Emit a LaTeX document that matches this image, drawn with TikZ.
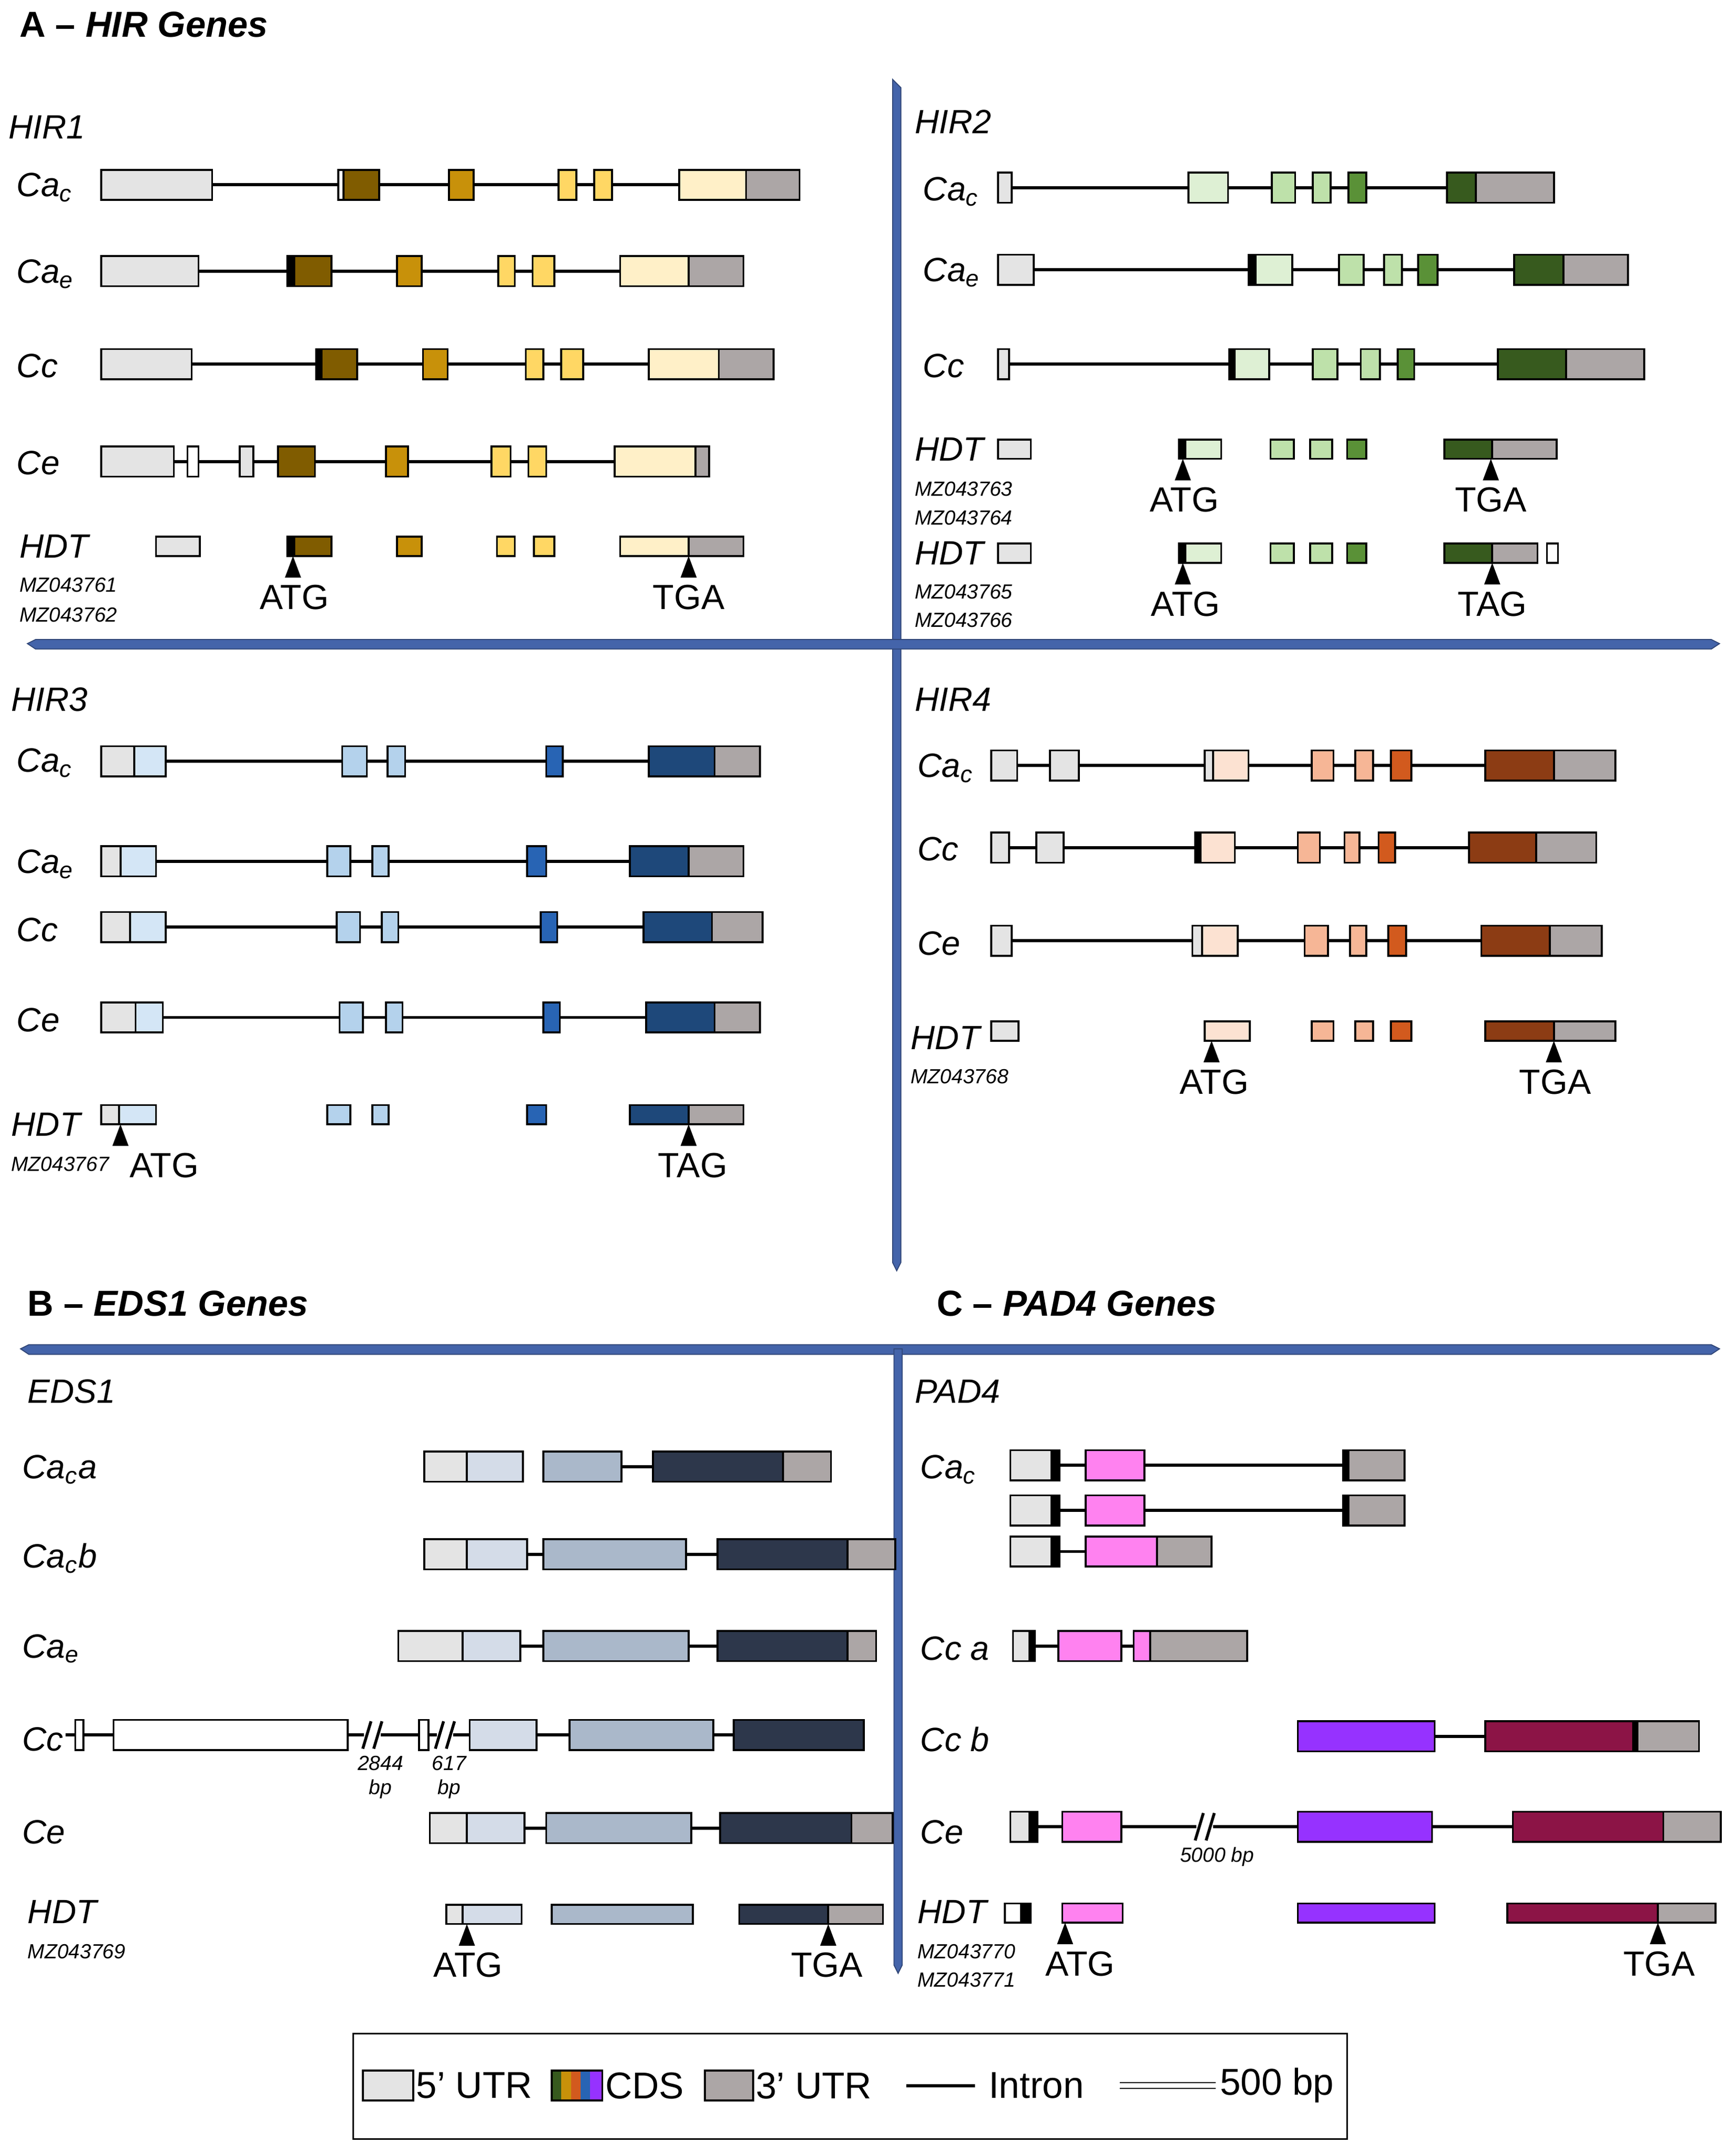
\documentclass[tikz,border=0pt]{standalone}
\usepackage{fontspec}
\setmainfont{Liberation Sans}
\usetikzlibrary{arrows.meta}
\definecolor{uA}{RGB}{228,228,228}\definecolor{uB}{RGB}{172,166,166}
\definecolor{y1}{RGB}{128,92,0}\definecolor{y2}{RGB}{200,145,10}\definecolor{y3}{RGB}{255,215,100}\definecolor{y4}{RGB}{255,240,200}
\definecolor{g1}{RGB}{222,240,212}\definecolor{g2}{RGB}{190,225,170}\definecolor{g3}{RGB}{90,145,55}\definecolor{g4}{RGB}{55,90,30}
\definecolor{b1}{RGB}{212,230,246}\definecolor{b2}{RGB}{180,210,236}\definecolor{b3}{RGB}{40,100,180}\definecolor{b4}{RGB}{30,72,122}
\definecolor{o1}{RGB}{252,226,210}\definecolor{o2}{RGB}{246,182,150}\definecolor{o3}{RGB}{210,90,30}\definecolor{o4}{RGB}{140,60,20}
\definecolor{e1}{RGB}{212,220,232}\definecolor{e2}{RGB}{170,184,202}\definecolor{e3}{RGB}{45,55,75}
\definecolor{p1}{RGB}{255,130,240}\definecolor{p2}{RGB}{150,50,255}\definecolor{p3}{RGB}{140,20,70}
\definecolor{bar}{RGB}{68,100,170}
\newcommand\GB[4]{\draw[thick,fill=#4] (#1,#3-11) rectangle (#2,#3+11);}
\newcommand\GH[4]{\draw[thick,fill=#4] (#1,#3-7) rectangle (#2,#3+7);}
\newcommand\GI[3]{\draw[line width=1.3pt] (#1,#3) -- (#2,#3);}
\newcommand\GA[4]{\draw[-{Triangle[length=9pt,width=6.5pt]},thick] (#1,#2+22) -- (#1,#2+7); \node[font=\fontsize{14.5}{15}\selectfont] at (#3,#2+37) {#4};}
\newcommand\GL[3]{\node[anchor=west,font=\itshape\fontsize{14}{15}\selectfont] at (#1,#2) {#3};}
\newcommand\GM[3]{\node[anchor=west,font=\itshape\fontsize{8.5}{9}\selectfont] at (#1,#2) {#3};}
\newcommand\cs[1]{\textit{Ca}\textsubscript{\textit{#1}}}
\newcommand\SL[2]{\draw[fill=white,draw=none] (#1-6,#2-12) rectangle (#1+6,#2+12); \draw[line width=1.2pt] (#1-7,#2+10)--(#1-1,#2-10) (#1+1,#2+10)--(#1+7,#2-10);}
\begin{document}
\begin{tikzpicture}[x=0.02cm,y=-0.02cm]
\useasboundingbox (0,0) rectangle (1268,1573);
\fill[white] (0,0) rectangle (1268,1573);
% bars
\draw[fill=bar,draw=bar!70!black] (652,58) -- (658,64) -- (658,922) -- (655,928) -- (652,922) -- cycle;
\draw[fill=bar,draw=bar!70!black] (20,470) -- (26,467) -- (1250,467) -- (1256,470) -- (1250,474) -- (26,474) -- cycle;
\draw[fill=bar,draw=bar!70!black] (15,985) -- (21,982) -- (1250,982) -- (1256,985) -- (1250,989) -- (21,989) -- cycle;
\draw[fill=bar,draw=bar!70!black] (653,985) -- (659,985) -- (659,1435) -- (656,1441) -- (653,1435) -- cycle;
% titles
\node[anchor=west,font=\bfseries\fontsize{15}{16}\selectfont] at (8,18) {A -- \textit{HIR Genes}};
\node[anchor=west,font=\bfseries\fontsize{15}{16}\selectfont] at (14,952) {B -- \textit{EDS1 Genes}};
\node[anchor=west,font=\bfseries\fontsize{15}{16}\selectfont] at (678,952) {C -- \textit{PAD4 Genes}};
% ===== HIR1
\GL{0}{93}{HIR1}
\GL{6}{137}{\cs{c}}\GI{155}{496}{135}
\GB{74}{155}{135}{uA}\GB{247}{251}{135}{white}\GB{251}{277}{135}{y1}\GB{328}{346}{135}{y2}\GB{408}{421}{135}{y3}\GB{434}{447}{135}{y3}\GB{496}{545}{135}{y4}\GB{545}{584}{135}{uB}
\GL{6}{200}{\cs{e}}\GI{145}{453}{198}
\GB{74}{145}{198}{uA}\GB{210}{215}{198}{black}\GB{215}{242}{198}{y1}\GB{290}{308}{198}{y2}\GB{364}{376}{198}{y3}\GB{389}{405}{198}{y3}\GB{453}{503}{198}{y4}\GB{503}{543}{198}{uB}
\GL{6}{267}{\textit{Cc}}\GI{140}{474}{266}
\GB{74}{140}{266}{uA}\GB{231}{235}{266}{black}\GB{235}{261}{266}{y1}\GB{309}{327}{266}{y2}\GB{384}{397}{266}{y3}\GB{410}{426}{266}{y3}\GB{474}{525}{266}{y4}\GB{525}{565}{266}{uB}
\GL{6}{338}{\textit{Ce}}\GI{127}{449}{337}
\GB{74}{127}{337}{uA}\GB{137}{145}{337}{white}\GB{175}{185}{337}{uA}\GB{203}{230}{337}{y1}\GB{282}{298}{337}{y2}\GB{359}{373}{337}{y3}\GB{386}{399}{337}{y3}\GB{449}{508}{337}{y4}\GB{508}{518}{337}{uB}
\GL{8}{399}{\textit{HDT}}\GM{8}{427}{MZ043761}\GM{8}{449}{MZ043762}
\GH{114}{146}{399}{uA}\GH{210}{215}{399}{black}\GH{215}{242}{399}{y1}\GH{290}{308}{399}{y2}\GH{363}{376}{399}{y3}\GH{390}{405}{399}{y3}\GH{453}{503}{399}{y4}\GH{503}{543}{399}{uB}
\GA{214}{399}{215}{ATG}\GA{503}{399}{503}{TGA}
% ===== HIR2
\GL{662}{89}{HIR2}
\GL{668}{140}{\cs{c}}\GI{739}{1057}{137}
\GB{729}{739}{137}{uA}\GB{868}{897}{137}{g1}\GB{929}{946}{137}{g2}\GB{959}{972}{137}{g2}\GB{985}{998}{137}{g3}\GB{1057}{1078}{137}{g4}\GB{1078}{1135}{137}{uB}
\GL{668}{199}{\cs{e}}\GI{755}{1106}{197}
\GB{729}{755}{197}{uA}\GB{912}{917}{197}{black}\GB{917}{944}{197}{g1}\GB{978}{996}{197}{g2}\GB{1011}{1024}{197}{g2}\GB{1036}{1050}{197}{g3}\GB{1106}{1142}{197}{g4}\GB{1142}{1189}{197}{uB}
\GL{668}{267}{\textit{Cc}}\GI{737}{1094}{266}
\GB{729}{737}{266}{uA}\GB{898}{902}{266}{black}\GB{902}{927}{266}{g1}\GB{959}{977}{266}{g2}\GB{994}{1008}{266}{g2}\GB{1021}{1033}{266}{g3}\GB{1094}{1144}{266}{g4}\GB{1144}{1201}{266}{uB}
\GL{662}{328}{\textit{HDT}}\GM{662}{357}{MZ043763}\GM{662}{378}{MZ043764}
\GH{729}{753}{328}{uA}\GH{861}{866}{328}{black}\GH{866}{892}{328}{g1}\GH{928}{945}{328}{g2}\GH{957}{973}{328}{g2}\GH{984}{998}{328}{g3}\GH{1055}{1090}{328}{g4}\GH{1090}{1137}{328}{uB}
\GA{864}{328}{865}{ATG}\GA{1089}{328}{1089}{TGA}
\GL{662}{404}{\textit{HDT}}\GM{662}{432}{MZ043765}\GM{662}{453}{MZ043766}
\GH{729}{753}{404}{uA}\GH{861}{866}{404}{black}\GH{866}{892}{404}{g1}\GH{928}{945}{404}{g2}\GH{957}{973}{404}{g2}\GH{984}{998}{404}{g3}\GH{1055}{1090}{404}{g4}\GH{1090}{1123}{404}{uB}\GH{1130}{1138}{404}{white}
\GA{864}{404}{866}{ATG}\GA{1090}{404}{1090}{TAG}
% ===== HIR3
\GL{2}{511}{HIR3}
\GL{6}{557}{\cs{c}}\GI{121}{474}{556}
\GB{74}{98}{556}{uA}\GB{98}{121}{556}{b1}\GB{250}{268}{556}{b2}\GB{283}{296}{556}{b2}\GB{399}{411}{556}{b3}\GB{474}{522}{556}{b4}\GB{522}{555}{556}{uB}
\GL{6}{631}{\cs{e}}\GI{114}{460}{629}
\GB{74}{88}{629}{uA}\GB{88}{114}{629}{b1}\GB{239}{256}{629}{b2}\GB{272}{284}{629}{b2}\GB{385}{399}{629}{b3}\GB{460}{503}{629}{b4}\GB{503}{543}{629}{uB}
\GL{6}{679}{\textit{Cc}}\GI{121}{470}{677}
\GB{74}{95}{677}{uA}\GB{95}{121}{677}{b1}\GB{246}{263}{677}{b2}\GB{279}{291}{677}{b2}\GB{395}{407}{677}{b3}\GB{470}{520}{677}{b4}\GB{520}{557}{677}{uB}
\GL{6}{745}{\textit{Ce}}\GI{119}{472}{743}
\GB{74}{99}{743}{uA}\GB{99}{119}{743}{b1}\GB{248}{265}{743}{b2}\GB{282}{294}{743}{b2}\GB{397}{409}{743}{b3}\GB{472}{522}{743}{b4}\GB{522}{555}{743}{uB}
\GL{2}{821}{\textit{HDT}}\GM{2}{850}{MZ043767}
\GH{74}{87}{814}{uA}\GH{87}{114}{814}{b1}\GH{239}{256}{814}{b2}\GH{272}{284}{814}{b2}\GH{385}{399}{814}{b3}\GH{460}{503}{814}{b4}\GH{503}{543}{814}{uB}
\GA{88}{814}{120}{ATG}\GA{503}{814}{506}{TAG}
% ===== HIR4
\GL{662}{511}{HIR4}
\GL{664}{561}{\cs{c}}\GI{743}{1085}{559}
\GB{724}{743}{559}{uA}\GB{767}{788}{559}{uA}\GB{880}{886}{559}{uA}\GB{886}{912}{559}{o1}\GB{958}{974}{559}{o2}\GB{990}{1003}{559}{o2}\GB{1016}{1031}{559}{o3}\GB{1085}{1135}{559}{o4}\GB{1135}{1180}{559}{uB}
\GL{664}{620}{\textit{Cc}}\GI{737}{1073}{619}
\GB{724}{737}{619}{uA}\GB{757}{777}{619}{uA}\GB{873}{877}{619}{black}\GB{877}{902}{619}{o1}\GB{948}{964}{619}{o2}\GB{982}{993}{619}{o2}\GB{1007}{1019}{619}{o3}\GB{1073}{1122}{619}{o4}\GB{1122}{1166}{619}{uB}
\GL{664}{689}{\textit{Ce}}\GI{739}{1082}{687}
\GB{724}{739}{687}{uA}\GB{871}{878}{687}{uA}\GB{878}{904}{687}{o1}\GB{953}{970}{687}{o2}\GB{986}{998}{687}{o2}\GB{1014}{1027}{687}{o3}\GB{1082}{1132}{687}{o4}\GB{1132}{1170}{687}{uB}
\GL{659}{758}{\textit{HDT}}\GM{659}{786}{MZ043768}
\GH{724}{744}{753}{uA}\GH{880}{913}{753}{o1}\GH{958}{974}{753}{o2}\GH{990}{1003}{753}{o2}\GH{1016}{1031}{753}{o3}\GH{1085}{1135}{753}{o4}\GH{1135}{1180}{753}{uB}
\GA{885}{753}{887}{ATG}\GA{1135}{753}{1136}{TGA}
% ===== EDS1
\GL{14}{1016}{EDS1}
\GL{10}{1073}{\cs{c}a}\GI{454}{477}{1071}
\GB{310}{341}{1071}{uA}\GB{341}{382}{1071}{e1}\GB{397}{454}{1071}{e2}\GB{477}{572}{1071}{e3}\GB{572}{607}{1071}{uB}
\GL{10}{1138}{\cs{c}b}\GI{382}{524}{1135}
\GB{310}{341}{1135}{uA}\GB{341}{385}{1135}{e1}\GB{397}{501}{1135}{e2}\GB{524}{619}{1135}{e3}\GB{619}{654}{1135}{uB}
\GL{10}{1204}{\cs{e}}\GI{380}{524}{1202}
\GB{291}{338}{1202}{uA}\GB{338}{380}{1202}{e1}\GB{397}{503}{1202}{e2}\GB{524}{619}{1202}{e3}\GB{619}{640}{1202}{uB}
\GL{10}{1270}{\textit{Cc}}\GI{48}{536}{1267}
\GB{55}{61}{1267}{white}\GB{83}{254}{1267}{white}\SL{272}{1267}\GB{306}{313}{1267}{white}\SL{325}{1267}
\GB{343}{392}{1267}{e1}\GB{416}{521}{1267}{e2}\GB{536}{631}{1267}{e3}
\node[font=\itshape\fontsize{8.5}{10}\selectfont,align=center] at (278,1298) {2844\\bp};
\node[font=\itshape\fontsize{8.5}{10}\selectfont,align=center] at (328,1298) {617\\bp};
\GL{10}{1338}{\textit{Ce}}\GI{383}{526}{1335}
\GB{314}{341}{1335}{uA}\GB{341}{383}{1335}{e1}\GB{399}{505}{1335}{e2}\GB{526}{622}{1335}{e3}\GB{622}{652}{1335}{uB}
\GL{14}{1396}{\textit{HDT}}\GM{14}{1425}{MZ043769}
\GH{326}{338}{1398}{uA}\GH{338}{381}{1398}{e1}\GH{403}{506}{1398}{e2}\GH{540}{605}{1398}{e3}\GH{605}{645}{1398}{uB}
\GA{341}{1398}{342}{ATG}\GA{605}{1398}{604}{TGA}
% ===== PAD4
\GL{662}{1016}{PAD4}
\GL{666}{1073}{\cs{c}}
\GI{774}{981}{1070}\GB{738}{768}{1070}{uA}\GB{768}{774}{1070}{black}\GB{793}{836}{1070}{p1}\GB{981}{985}{1070}{black}\GB{985}{1026}{1070}{uB}
\GI{774}{981}{1103}\GB{738}{768}{1103}{uA}\GB{768}{774}{1103}{black}\GB{793}{836}{1103}{p1}\GB{981}{985}{1103}{black}\GB{985}{1026}{1103}{uB}
\GI{774}{793}{1133}\GB{738}{768}{1133}{uA}\GB{768}{774}{1133}{black}\GB{793}{845}{1133}{p1}\GB{845}{885}{1133}{uB}
\GL{666}{1204}{\textit{Cc} a}\GI{756}{828}{1202}
\GB{740}{752}{1202}{uA}\GB{752}{756}{1202}{black}\GB{773}{819}{1202}{p1}\GB{828}{840}{1202}{p1}\GB{840}{911}{1202}{uB}
\GL{666}{1270}{\textit{Cc} b}\GI{1048}{1085}{1268}
\GB{948}{1048}{1268}{p2}\GB{1085}{1193}{1268}{p3}\GB{1193}{1196}{1268}{black}\GB{1196}{1241}{1268}{uB}
\GL{666}{1338}{\textit{Ce}}\GI{758}{1105}{1334}
\GB{738}{752}{1334}{uA}\GB{752}{758}{1334}{black}\GB{776}{819}{1334}{p1}\SL{880}{1334}\GB{948}{1046}{1334}{p2}\GB{1105}{1215}{1334}{p3}\GB{1215}{1257}{1334}{uB}
\node[font=\itshape\fontsize{8.5}{9}\selectfont] at (889,1356) {5000 bp};
\GL{664}{1396}{\textit{HDT}}\GM{664}{1425}{MZ043770}\GM{664}{1446}{MZ043771}
\GH{734}{746}{1397}{white}\GH{746}{753}{1397}{black}\GH{776}{820}{1397}{p1}\GH{948}{1048}{1397}{p2}\GH{1101}{1211}{1397}{p3}\GH{1211}{1253}{1397}{uB}
\GA{778}{1397}{789}{ATG}\GA{1211}{1397}{1212}{TGA}
% ===== legend
\draw[thick] (258,1485) rectangle (984,1562);
\begin{scope}[font=\fontsize{15.5}{16}\selectfont]
\GB{265}{302}{1523}{uA}\node[anchor=west,inner sep=1pt] at (302,1523) {5' UTR};
\fill[g4] (403,1512) rectangle (410,1534);\fill[y2] (410,1512) rectangle (417,1534);\fill[o3] (417,1512) rectangle (424,1534);\fill[b3] (424,1512) rectangle (431,1534);\fill[p2] (431,1512) rectangle (440,1534);
\draw[thick] (403,1512) rectangle (440,1534);\node[anchor=west,inner sep=1pt] at (440,1523) {CDS};
\GB{515}{550}{1523}{uB}\node[anchor=west,inner sep=1pt] at (550,1523) {3' UTR};
\GI{662}{712}{1523}\node[anchor=west] at (716,1523) {Intron};
\draw[thin] (818,1521) -- (888,1521) (818,1525) -- (888,1525);\node[anchor=west,inner sep=1pt] at (889,1523) {500 bp};
\end{scope}
\end{tikzpicture}
\end{document}
